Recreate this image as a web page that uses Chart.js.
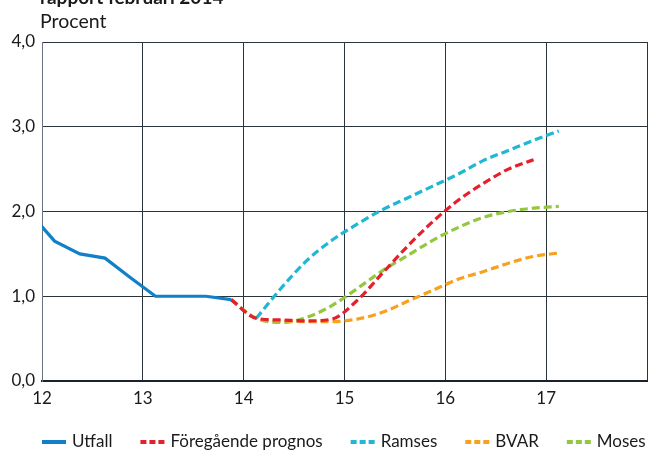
<!DOCTYPE html>
<html lang="sv">
<head>
    <meta charset="utf-8">
    <title>Prognoser, rapport februari 2014</title>
    <style>
    body,
    html {
        margin: 0;
        background: #fff;
    }
    #wrap {
        width: 648px;
        height: 453px;
    }
    </style>
    <script src="https://cdn.jsdelivr.net/npm/chart.js"></script>
</head>
<body>
    <div id="wrap"><canvas id="chart" width="648" height="453"></canvas></div>

    <script type="text/javascript">
        // kvartal, ritade mitt i kvartalet
        var kvartal = [11.875, 12.125, 12.375, 12.625, 12.875, 13.125, 13.375, 13.625, 13.875,
                       14.125, 14.375, 14.625, 14.875, 15.125, 15.375, 15.625, 15.875,
                       16.125, 16.375, 16.625, 16.875, 17.125];

        var utfall     = [1.99, 1.65, 1.50, 1.45, 1.22, 1.00, 1.00, 1.00, 0.96,
                          null, null, null, null, null, null, null, null, null, null, null, null, null];
        var foregaende = [null, null, null, null, null, null, null, null, 0.96,
                          0.74, 0.72, 0.71, 0.73, 0.95, 1.27, 1.59, 1.88, 2.13, 2.33, 2.50, 2.61, null];
        var ramses     = [null, null, null, null, null, null, null, null, null,
                          0.74, 1.10, 1.42, 1.66, 1.85, 2.02, 2.16, 2.30, 2.44, 2.60, 2.72, 2.84, 2.95];
        var bvar       = [null, null, null, null, null, null, null, null, 0.96,
                          0.74, 0.71, 0.70, 0.70, 0.73, 0.81, 0.94, 1.07, 1.20, 1.29, 1.39, 1.47, 1.51];
        var moses      = [null, null, null, null, null, null, null, null, 0.96,
                          0.74, 0.69, 0.75, 0.89, 1.09, 1.30, 1.48, 1.66, 1.81, 1.93, 2.00, 2.04, 2.06];

        var xTicks = [12, 13, 14, 15, 16, 17];
        var yTicks = ['0,0', '1,0', '2,0', '3,0', '4,0'];

        var FONT = 'Lato, "Open Sans", sans-serif';
        var gridColor = '#2b333d';

        function punkter(serie) {
            return kvartal.map(function (x, i) {
                return { x: x, y: serie[i] };
            });
        }

        function prognos(label, serie, color) {
            return {
                label: label,
                data: punkter(serie),
                borderColor: color,
                backgroundColor: color,
                borderWidth: 3.2,
                borderDash: [8, 4],
                pointRadius: 0,
                fill: false,
                cubicInterpolationMode: 'monotone'
            };
        }

        // egen förklaring under diagrammet
        var legendPlugin = {
            id: 'egenLegend',
            afterDraw: function (chart) {
                var ctx = chart.ctx;
                var x = 42, y = 442;
                ctx.save();
                ctx.font = '17px ' + FONT;
                ctx.textBaseline = 'middle';
                chart.data.datasets.forEach(function (ds) {
                    ctx.beginPath();
                    ctx.lineWidth = 4;
                    ctx.strokeStyle = ds.borderColor;
                    ctx.setLineDash(ds.borderDash ? [6, 3] : []);
                    ctx.moveTo(x, y);
                    ctx.lineTo(x + 24, y);
                    ctx.stroke();
                    ctx.fillStyle = '#1a1a1a';
                    ctx.fillText(ds.label, x + 30, y);
                    x += 30 + ctx.measureText(ds.label).width + 28;
                });
                ctx.restore();
            }
        };

        var textPlugin = {
            id: 'rubrik',
            afterDraw: function (chart) {
                var ctx = chart.ctx;
                ctx.save();
                ctx.fillStyle = '#1a1a1a';
                ctx.textBaseline = 'alphabetic';
                ctx.font = 'bold 19px ' + FONT;
                ctx.fillText('rapport februari 2014', 40, 4);
                ctx.font = '19.5px ' + FONT;
                ctx.fillText('Procent', 40, 28);
                ctx.restore();
            }
        };

        var ctx = document.getElementById('chart').getContext('2d');
        var chart = new Chart(ctx, {
            type: 'line',
            data: {
                datasets: [
                    {
                        label: 'Utfall',
                        data: punkter(utfall),
                        borderColor: '#1180c8',
                        backgroundColor: '#1180c8',
                        borderWidth: 3.2,
                        pointRadius: 0,
                        fill: false,
                        tension: 0
                    },
                    prognos('Föregående prognos', foregaende, '#e5202e'),
                    prognos('Ramses', ramses, '#1fb7d3'),
                    prognos('BVAR', bvar, '#f7a11e'),
                    prognos('Moses', moses, '#93c741')
                ]
            },
            options: {
                responsive: false,
                animation: false,
                layout: { padding: { top: 42, right: 1, left: 0, bottom: 0 } },
                plugins: {
                    legend: { display: false },
                    tooltip: { enabled: false }
                },
                scales: {
                    x: {
                        type: 'linear',
                        min: 12,
                        max: 18,
                        afterBuildTicks: function (scale) {
                            scale.ticks = [12, 13, 14, 15, 16, 17, 18].map(function (v) { return { value: v }; });
                        },
                        afterFit: function (scale) {
                            scale.height = 72;
                            scale.paddingLeft = 0;
                            scale.paddingRight = 0;
                        },
                        ticks: {
                            autoSkip: false,
                            maxRotation: 0,
                            padding: 7,
                            color: '#1a1a1a',
                            font: { family: FONT, size: 17 },
                            callback: function (v) { return xTicks.indexOf(v) >= 0 ? String(v) : ''; }
                        },
                        grid: { color: gridColor, lineWidth: 1, drawTicks: false },
                        border: { color: '#1b222b', width: 2 }
                    },
                    y: {
                        min: 0,
                        max: 4,
                        afterFit: function (scale) {
                            scale.width = 42;
                            scale.paddingTop = 0;
                            scale.paddingBottom = 0;
                        },
                        ticks: {
                            stepSize: 1,
                            padding: 7,
                            color: '#1a1a1a',
                            font: { family: FONT, size: 17 },
                            callback: function (v) { return yTicks[v]; }
                        },
                        grid: { color: gridColor, lineWidth: 1, drawTicks: false },
                        border: { color: '#6b7280', width: 1 }
                    }
                }
            },
            plugins: [legendPlugin, textPlugin]
        });
    </script>
</body>
</html>
